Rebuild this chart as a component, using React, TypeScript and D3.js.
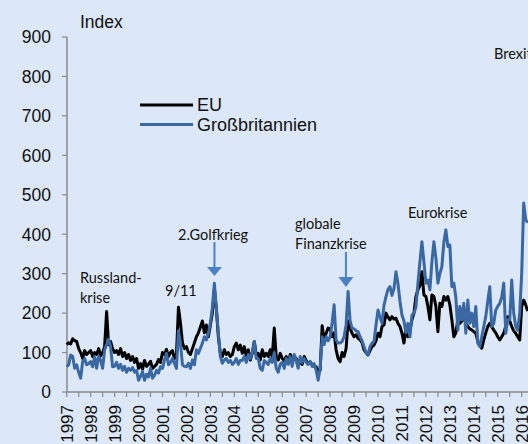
import React from "react";
import * as d3 from "d3";

// Monthly values, Jan 1997 .. Apr 2016
const euValues: number[] = [
  // 1997
  120, 125, 122, 135, 130, 128, 110, 100, 85, 105, 95, 100,
  // 1998
  105, 90, 100, 95, 110, 92, 100, 115, 204, 120, 128, 110,
  // 1999
  100, 105, 95, 110, 90, 100, 85, 95, 80, 90, 75, 85,
  // 2000
  60, 72, 58, 80, 65, 70, 78, 60, 65, 70, 82, 75,
  // 2001
  100, 95, 108, 90, 100, 105, 85, 95, 215, 175, 125, 110,
  // 2002
  115, 100, 95, 110, 125, 140, 150, 165, 180, 150, 170, 140,
  // 2003
  170, 200, 262, 210, 140, 98, 90, 107, 95, 100, 90, 95,
  // 2004
  115, 124, 107, 119, 98, 115, 90, 107, 81, 98, 128, 93,
  // 2005
  98, 81, 107, 90, 98, 90, 107, 90, 162, 90, 81, 98,
  // 2006
  85, 80, 90, 75, 95, 85, 90, 85, 65, 80, 70, 90,
  // 2007
  80, 72, 75, 70, 65, 64, 52, 55, 168, 132, 149, 162,
  // 2008
  160, 140, 150, 107, 85, 77, 100, 90, 110, 180, 160, 149,
  // 2009
  140, 145, 136, 132, 125, 107, 100, 94, 105, 115, 119, 130,
  // 2010
  149, 140, 166, 170, 200, 190, 183, 191, 185, 187, 174, 166,
  // 2011
  149, 124, 162, 140, 157, 183, 200, 242, 259, 270, 305, 246,
  // 2012
  242, 217, 183, 246, 242, 217, 153, 225, 217, 242, 233, 242,
  // 2013
  221, 183, 140, 150, 183, 174, 180, 191, 175, 166, 160, 157,
  // 2014
  153, 149, 128, 120, 111, 132, 150, 166, 174, 165, 157, 150,
  // 2015
  140, 132, 140, 149, 166, 191, 180, 166, 155, 149, 140, 132,
  // 2016
  217, 233, 221, 205,
];

const gbValues: number[] = [
  // 1997
  64, 69, 94, 90, 60, 69, 50, 35, 77, 85, 69, 72,
  // 1998
  77, 64, 90, 60, 90, 81, 60, 107, 120, 134, 115, 64,
  // 1999
  65, 75, 60, 70, 55, 65, 50, 60, 55, 62, 50, 55,
  // 2000
  30, 39, 52, 30, 45, 38, 60, 35, 42, 55, 48, 64,
  // 2001
  60, 81, 98, 69, 75, 85, 73, 60, 155, 124, 69, 65,
  // 2002
  64, 73, 60, 81, 69, 107, 98, 111, 124, 140, 132, 149,
  // 2003
  175, 215, 276, 210, 149, 90, 73, 81, 85, 75, 80, 70,
  // 2004
  75, 85, 70, 80, 80, 90, 75, 95, 85, 100, 128, 85,
  // 2005
  85, 60, 55, 80, 75, 70, 85, 75, 100, 60, 50, 70,
  // 2006
  75, 60, 85, 70, 90, 65, 95, 80, 60, 90, 75, 85,
  // 2007
  75, 70, 78, 65, 72, 55, 30, 60, 140, 120, 140, 130,
  // 2008
  140, 175, 221, 132, 124, 124, 128, 140, 170, 255, 180, 162,
  // 2009
  160, 155, 153, 140, 130, 115, 100, 94, 115, 124, 128, 170,
  // 2010
  208, 190, 174, 220, 242, 260, 267, 245, 262, 305, 275, 230,
  // 2011
  195, 180, 150, 174, 140, 195, 200, 215, 276, 330, 381, 330,
  // 2012
  276, 284, 259, 330, 381, 340, 276, 300, 318, 380, 411, 369,
  // 2013
  373, 267, 276, 240, 157, 217, 183, 225, 149, 233, 174, 200,
  // 2014
  166, 217, 124, 115, 140, 166, 191, 230, 267, 166, 174, 208,
  // 2015
  217, 225, 240, 276, 149, 183, 183, 284, 200, 166, 157, 200,
  // 2016
  300, 479, 437, 429,
];

const startYear = 1997;
const yearLabels: number[] = d3.range(1997, 2017);
const yTicks: number[] = [0, 100, 200, 300, 400, 500, 600, 700, 800, 900];
const seriesNames: string[] = ["EU", "Großbritannien"];

const annotations = [
  { lines: ["Russland-", "krise"], x: 80, y: 283 },
  { lines: ["9/11"], x: 165, y: 296 },
  { lines: ["2.Golfkrieg"], x: 178, y: 240 },
  { lines: ["globale", "Finanzkrise"], x: 295, y: 229 },
  { lines: ["Eurokrise"], x: 408, y: 218 },
  { lines: ["Brexit"], x: 494, y: 59 },
];

const W = 528;
const H = 444;
const BG = "#dce8f7";
const BLUE = "#3a68a2";
const ARROW = "#4b82c4";
const AXIS = "#8a8a8a";

export default function App() {
  const x = d3.scaleLinear().domain([1997, 2016]).range([66.7, 521.7]);
  const y = d3.scaleLinear().domain([0, 900]).range([392, 37]);

  const toPts = (vals: number[]) => vals.map((v, i) => ({ t: startYear + i / 12, v }));
  const line = d3
    .line<{ t: number; v: number }>()
    .x((d) => x(d.t))
    .y((d) => y(d.v));

  const halfTicks = d3.range(1997, 2016.6, 0.5);
  const axisFont = "'Liberation Sans', Arial, sans-serif";
  const annFont = "Lato, 'Open Sans', sans-serif";

  const arrow = (t: number, y0: number, y1: number, y2: number) => {
    const ax = x(t);
    return (
      <g>
        <line x1={ax} x2={ax} y1={y0} y2={y1} stroke={ARROW} strokeWidth={2} />
        <path d={`M${ax - 7.5},${y1} L${ax + 7.5},${y1} L${ax},${y2} Z`} fill={ARROW} />
      </g>
    );
  };

  return (
    <svg
      width={W}
      height={H}
      style={{ position: "fixed", left: 0, top: 0, background: BG }}
    >
      <rect x={0} y={0} width={W} height={H} fill={BG} />

      {/* y axis */}
      <line x1={67} x2={67} y1={y(900)} y2={y(0)} stroke={AXIS} strokeWidth={1.5} />
      {yTicks.map((t) => (
        <g key={t}>
          <line x1={62} x2={67} y1={y(t)} y2={y(t)} stroke={AXIS} strokeWidth={1.2} />
          <text
            x={51}
            y={y(t)}
            dy="0.36em"
            textAnchor="end"
            fontFamily={axisFont}
            fontSize={17.5}
            fill="#111"
          >
            {t}
          </text>
        </g>
      ))}
      <text x={80} y={28} fontFamily={axisFont} fontSize={17.5} fill="#111">
        Index
      </text>

      {/* x axis */}
      <line x1={66} x2={W} y1={y(0)} y2={y(0)} stroke={AXIS} strokeWidth={1.5} />
      {halfTicks.map((t) => (
        <line key={t} x1={x(t)} x2={x(t)} y1={y(0)} y2={y(0) + 5} stroke={AXIS} strokeWidth={1.2} />
      ))}
      {yearLabels.map((yr) => (
        <text
          key={yr}
          transform={`translate(${x(yr)},405) rotate(-90)`}
          dy="0.36em"
          textAnchor="end"
          fontFamily={axisFont}
          fontSize={17}
          fill="#111"
        >
          {yr}
        </text>
      ))}

      {/* series */}
      <path d={line(toPts(euValues)) || ""} fill="none" stroke="#000" strokeWidth={3} strokeLinejoin="round" />
      <path d={line(toPts(gbValues)) || ""} fill="none" stroke={BLUE} strokeWidth={3} strokeLinejoin="round" />

      {/* legend */}
      <line x1={140} x2={193} y1={105} y2={105} stroke="#000" strokeWidth={3} />
      <text x={197} y={105} dy="0.36em" fontFamily={axisFont} fontSize={18} fill="#111">
        {seriesNames[0]}
      </text>
      <line x1={140} x2={193} y1={124.5} y2={124.5} stroke={BLUE} strokeWidth={3} />
      <text x={197} y={124.5} dy="0.36em" fontFamily={axisFont} fontSize={18} fill="#111">
        {seriesNames[1]}
      </text>

      {/* annotations */}
      {annotations.map((a, i) => (
        <text key={i} x={a.x} y={a.y} fontFamily={annFont} fontSize={14.5} fill="#111">
          {a.lines.map((l, j) => (
            <tspan key={j} x={a.x} dy={j === 0 ? 0 : 19.5}>
              {l}
            </tspan>
          ))}
        </text>
      ))}
      {arrow(2003.17, 242, 267, 276)}
      {arrow(2008.66, 252, 277, 287)}
    </svg>
  );
}
